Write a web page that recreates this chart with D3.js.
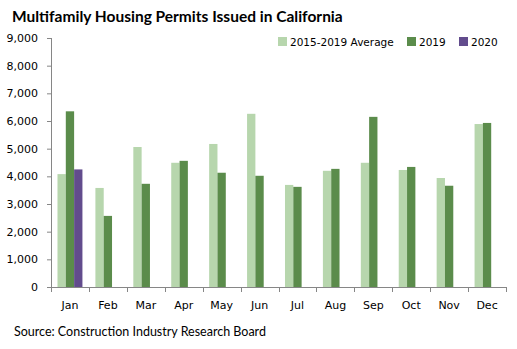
<!DOCTYPE html>
<html>
<head>
<meta charset="utf-8">
<script src="https://cdn.jsdelivr.net/npm/d3@7"></script>
<style>
  body { margin: 0; background: #fff; }
  svg { display: block; }
</style>
</head>
<body>
<div id="chart"></div>
<script>
const months = ["Jan", "Feb", "Mar", "Apr", "May", "Jun", "Jul", "Aug", "Sep", "Oct", "Nov", "Dec"];
const seriesNames = ["2015-2019 Average", "2019", "2020"];
const avg2015_2019 = [4080, 3580, 5060, 4490, 5170, 6260, 3690, 4200, 4490, 4230, 3940, 5890];
const y2019 = [6350, 2570, 3730, 4560, 4130, 4020, 3620, 4270, 6150, 4340, 3660, 5930];
const y2020 = [4250, null, null, null, null, null, null, null, null, null, null, null];
const yTicks = [0, 1000, 2000, 3000, 4000, 5000, 6000, 7000, 8000, 9000];
const colors = ["#b7d6ad", "#5b8c4b", "#624c8d"];

const width = 517, height = 349;
const margin = { left: 51, right: 11, top: 38, bottom: 62 };

const svg = d3.select("#chart").append("svg")
  .attr("width", width)
  .attr("height", height);

const x = d3.scaleBand()
  .domain(months)
  .range([margin.left, width - margin.right]);

const inner = d3.scaleBand()
  .domain(seriesNames)
  .range([0, x.bandwidth()])
  .paddingOuter(0.78)
  .paddingInner(0);

const y = d3.scaleLinear()
  .domain([0, 9000])
  .range([height - margin.bottom, margin.top]);

const table = months.map((m, i) => ({
  month: m,
  values: [avg2015_2019[i], y2019[i], y2020[i]]
}));

// bars
const groups = svg.append("g").selectAll("g")
  .data(table)
  .enter().append("g")
  .attr("transform", d => `translate(${x(d.month)},0)`);

groups.selectAll("rect")
  .data(d => d.values.map((v, k) => ({ key: seriesNames[k], v, k })).filter(e => e.v != null))
  .enter().append("rect")
  .attr("x", e => inner(e.key))
  .attr("width", inner.bandwidth())
  .attr("y", e => y(e.v))
  .attr("height", e => y(0) - y(e.v))
  .attr("fill", e => colors[e.k]);

// y axis
const yAxis = svg.append("g")
  .attr("transform", `translate(${margin.left},0)`)
  .call(d3.axisLeft(y).tickValues(yTicks).tickFormat(d3.format(",")).tickSize(4).tickPadding(9));
yAxis.select(".domain").attr("stroke", "#868686").attr("d", `M0.5,${y(9000)}V${y(0)}`);
yAxis.selectAll(".tick line").attr("stroke", "#868686");
yAxis.selectAll("text")
  .attr("font-family", "DejaVu Sans")
  .attr("font-size", 11)
  .attr("fill", "#000");

// x axis
const xAxis = svg.append("g")
  .attr("transform", `translate(0,${y(0)})`)
  .call(d3.axisBottom(x).tickSize(0).tickPadding(14));
xAxis.select(".domain").attr("stroke", "#868686").attr("d", `M${margin.left},0.5H${width - margin.right}`);
xAxis.selectAll("text")
  .attr("font-family", "DejaVu Sans")
  .attr("font-size", 11)
  .attr("fill", "#000");
const bounds = months.map(m => x(m)).concat([x(months[months.length - 1]) + x.bandwidth()]);
xAxis.selectAll(".sep")
  .data(bounds)
  .enter().append("line")
  .attr("class", "sep")
  .attr("x1", d => Math.round(d) + 0.5)
  .attr("x2", d => Math.round(d) + 0.5)
  .attr("y1", 0)
  .attr("y2", 5)
  .attr("stroke", "#868686");

// title
svg.append("text")
  .attr("x", 12)
  .attr("y", 22)
  .attr("font-family", "Lato")
  .attr("font-weight", "bold")
  .attr("font-size", 15.5)
  .text("Multifamily Housing Permits Issued in California");

// legend
const legendX = [278, 407, 459];
const legend = svg.append("g").selectAll("g")
  .data(seriesNames)
  .enter().append("g")
  .attr("transform", (d, i) => `translate(${legendX[i]},37)`);
legend.append("rect")
  .attr("width", 9).attr("height", 9)
  .attr("fill", (d, i) => colors[i]);
legend.append("text")
  .attr("x", 12)
  .attr("y", 8.5)
  .attr("font-family", "DejaVu Sans")
  .attr("font-size", 10.5)
  .text(d => d);

// source
svg.append("text")
  .attr("x", 14)
  .attr("y", 336)
  .attr("font-family", "Lato")
  .attr("font-size", 12.5)
  .text("Source: Construction Industry Research Board");
</script>
</body>
</html>
